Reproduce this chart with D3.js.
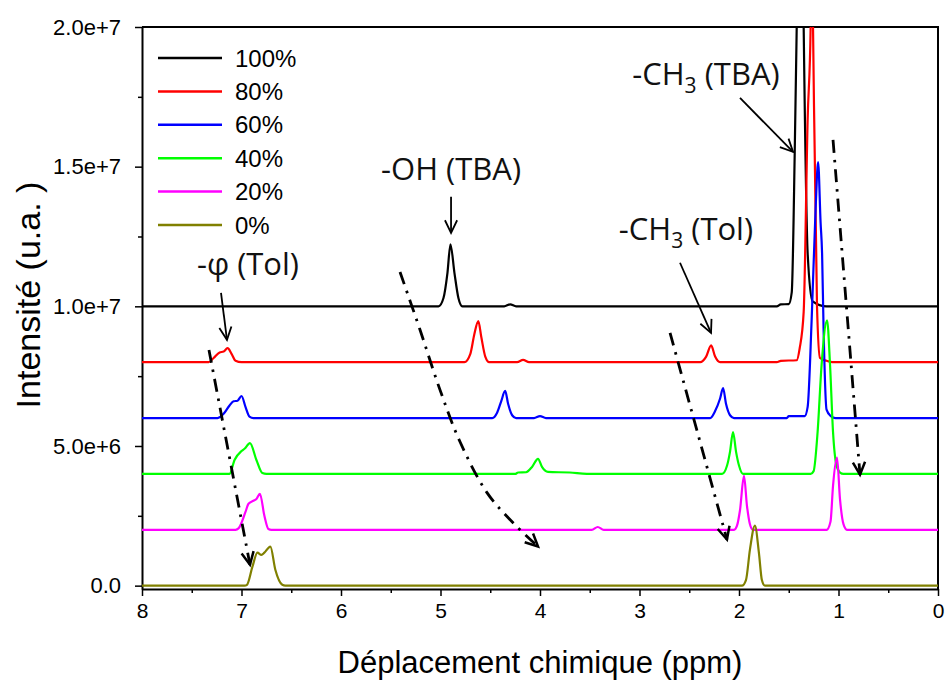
<!DOCTYPE html>
<html>
<head>
<meta charset="utf-8">
<script src="https://cdn.jsdelivr.net/npm/d3@7"></script>
<style>
  html, body { margin: 0; padding: 0; background: #fff; }
  svg { display: block; }
</style>
</head>
<body>
<svg id="chart" width="947" height="680"></svg>
<script>
// ---------- DATA (ppm, intensity above the trace baseline in units of 1e6) ----------
const seriesNames = ["100%", "80%", "60%", "40%", "20%", "0%"];
const seriesColors = ["#000000", "#ff0000", "#0000ff", "#00ff00", "#ff00ff", "#808000"];
const seriesOffsets = [10, 8, 6, 4, 2, 0]; // vertical stacking offset, 1e6 units
const UNIT = 1e6;

const spec100 = [[8,0],[5.02,0],[4.97,0.3],[4.93,1.2],[4.90,2.22],[4.86,1.2],[4.82,0.3],[4.78,0],
  [4.36,0],[4.30,0.07],[4.24,0],[1.62,0],[1.58,0.07],[1.50,0.08],[1.47,0.5],[1.44,5.5],[1.42,10],
  [1.38,20],[1.35,10],[1.31,1.9],[1.26,0.18],[1.12,0],[0,0]];
const spec80 = [[8,0],[7.33,0],[7.28,0.15],[7.22,0.35],[7.18,0.38],[7.14,0.5],[7.10,0.3],[7.06,0.05],[7.0,0],
  [4.76,0],[4.70,0.3],[4.66,1.0],[4.62,1.47],[4.59,0.9],[4.55,0.2],[4.51,0],[4.23,0],[4.17,0.08],[4.11,0],
  [2.39,0],[2.33,0.2],[2.28,0.6],[2.24,0.2],[2.19,0],[1.62,0],[1.58,0.05],[1.42,0.07],[1.39,0.5],
  [1.35,1.8],[1.31,8.7],[1.28,12],[1.27,16],[1.256,12],[1.216,2.0],[1.186,0.15],[1.12,0.05],[1.06,0],[0,0]];
const spec60 = [[8,0],[7.24,0],[7.18,0.15],[7.12,0.45],[7.08,0.6],[7.04,0.62],[7.0,0.79],[6.96,0.4],[6.92,0.05],[6.88,0],
  [4.48,0],[4.43,0.2],[4.39,0.6],[4.35,0.97],[4.32,0.5],[4.28,0.1],[4.24,0],[4.06,0],[4.0,0.07],[3.94,0],
  [2.29,0],[2.24,0.25],[2.19,0.7],[2.16,1.07],[2.13,0.5],[2.09,0.1],[2.05,0],[1.52,0],[1.50,0.07],[1.34,0.07],
  [1.31,0.4],[1.27,3.5],[1.23,7.5],[1.205,9.16],[1.18,7],[1.165,5.9],[1.15,3.2],[1.12,0.3],[1.08,0.08],[1.03,0],[0,0]];
const spec40 = [[8,0],[7.12,0],[7.07,0.5],[7.0,0.82],[6.97,0.9],[6.915,1.1],[6.85,0.5],[6.79,0.03],[6.75,0],
  [4.25,0],[4.22,0.05],[4.14,0.06],[4.08,0.25],[4.02,0.54],[3.98,0.25],[3.92,0.07],[3.70,0.05],[3.53,0],
  [2.17,0],[2.12,0.3],[2.09,0.8],[2.06,1.5],[2.03,0.8],[2.0,0.3],[1.96,0],[1.28,0],[1.25,0.1],[1.21,1.5],
  [1.17,3.9],[1.115,5.5],[1.085,3.9],[1.055,1.5],[1.02,0.3],[0.985,0.05],[0.95,0],[0,0]];
const spec20 = [[8,0],[7.06,0],[7.03,0.05],[6.96,0.64],[6.93,0.93],[6.88,1.04],[6.85,1.1],[6.815,1.29],[6.77,0.5],[6.73,0.03],[6.70,0],
  [3.48,0],[3.42,0.1],[3.36,0],[2.05,0],[2.02,0.15],[1.99,0.7],[1.95,1.93],[1.92,0.86],[1.89,0.2],[1.86,0],
  [1.12,0],[1.08,0.3],[1.055,1.57],[1.015,2.58],[0.985,1.1],[0.95,0.2],[0.915,0],[0,0]];
const spec0 = [[8,0],[6.97,0],[6.945,0.03],[6.89,0.68],[6.84,1.18],[6.80,1.1],[6.77,1.18],[6.71,1.4],[6.66,0.57],[6.59,0.03],[6.56,0],
  [1.97,0],[1.93,0.2],[1.89,1.29],[1.84,2.15],[1.80,1.18],[1.77,0.2],[1.74,0],[0,0]];
const spectra = [spec100, spec80, spec60, spec40, spec20, spec0];

const xTicks = [8, 7, 6, 5, 4, 3, 2, 1, 0];
const yTicks = [0, 5e6, 1e7, 1.5e7, 2e7];
const xTitle = "Déplacement chimique (ppm)";
const yTitle = "Intensité (u.a. )";

// annotations in data coordinates (ppm, 1e6 units)
const labelTexts = [["-φ (Tol)", null], ["-OH (TBA)", null], ["-CH", "3", " (TBA)"], ["-CH", "3", " (Tol)"]];
const labelPos = [[6.935, 11.13], [4.894, 14.53], [2.332, 17.92], [2.533, 12.38]];
const solidArrows = [
  [[7.206, 10.48], [7.146, 8.80]],
  [[4.894, 13.92], [4.894, 12.63]],
  [[1.99, 17.46], [1.457, 15.53]],
  [[2.593, 11.56], [2.281, 9.05]]
];
const dashArrows = [
  [[7.327, 8.44], [6.915, 0.75]],
  [[5.407, 11.23], [5.206, 9.16], [5.005, 7.01], [4.804, 5.15], [4.533, 3.33], [4.271, 2.25], [4.020, 1.40]],
  [[2.693, 9.05], [2.121, 1.65]],
  [[1.055, 15.96], [0.784, 3.97]]
];

// ---------- LAYOUT ----------
const W = 947, H = 680;
const margin = {left: 142, right: 9, top: 27, bottom: 91};
const svg = d3.select("#chart");
const x = d3.scaleLinear().domain([8, 0]).range([margin.left, W - margin.right]);
const y = d3.scaleLinear().domain([-0.12e6, 2e7]).range([H - margin.bottom, margin.top]);
const sansFont = "'Liberation Sans', Arial, sans-serif";
const annFont = "'Open Sans', 'Noto Sans', sans-serif";

svg.append("defs").append("clipPath").attr("id", "clip")
  .append("rect").attr("x", margin.left).attr("y", margin.top)
  .attr("width", W - margin.left - margin.right).attr("height", H - margin.top - margin.bottom);

// axes
const fmtY = d => d === 0 ? "0.0" : d3.format(".1e")(d);
const xMinor = d3.range(0, 8.01, 0.5).filter(v => !xTicks.includes(v));
const yMinor = d3.range(0, 2e7 + 1, 2.5e6).filter(v => !yTicks.includes(v));
const yBottom = H - margin.bottom;

const gx = svg.append("g").attr("transform", `translate(0,${yBottom})`)
  .call(d3.axisBottom(x).tickValues(xTicks).tickFormat(d3.format("d")).tickSize(7).tickPadding(7).tickSizeOuter(0));
svg.append("g").attr("transform", `translate(0,${yBottom})`)
  .call(d3.axisBottom(x).tickValues(xMinor).tickFormat("").tickSize(4).tickSizeOuter(0))
  .call(g => g.select(".domain").remove());
const gy = svg.append("g").attr("transform", `translate(${margin.left},0)`)
  .call(d3.axisLeft(y).tickValues(yTicks).tickFormat(fmtY).tickSize(7).tickPadding(14).tickSizeOuter(0));
svg.append("g").attr("transform", `translate(${margin.left},0)`)
  .call(d3.axisLeft(y).tickValues(yMinor).tickFormat("").tickSize(4).tickSizeOuter(0))
  .call(g => g.select(".domain").remove());

svg.selectAll(".tick line").attr("stroke", "#000").attr("stroke-width", 1.5);
svg.selectAll(".domain").attr("stroke", "#000").attr("stroke-width", 2);
gx.selectAll("text").attr("font-family", sansFont).attr("font-size", 21).attr("fill", "#000");
gy.selectAll("text").attr("font-family", sansFont).attr("font-size", 22).attr("fill", "#000");

// frame (top & right)
svg.append("path")
  .attr("d", `M${x(8)},${margin.top}H${x(0)}V${yBottom}`)
  .attr("fill", "none").attr("stroke", "#000").attr("stroke-width", 2);

// spectra
const line = d3.line().curve(d3.curveMonotoneX);
const gLines = svg.append("g").attr("clip-path", "url(#clip)");
spectra.forEach((s, i) => {
  gLines.append("path")
    .attr("d", line(s.map(d => [x(d[0]), y((d[1] + seriesOffsets[i]) * UNIT)])))
    .attr("fill", "none").attr("stroke", seriesColors[i]).attr("stroke-width", 2.2)
    .attr("stroke-linejoin", "round");
});

// titles
svg.append("text").attr("x", (x(8) + x(0)) / 2).attr("y", 673)
  .attr("text-anchor", "middle").attr("font-family", sansFont).attr("font-size", 31)
  .text(xTitle);
svg.append("text").attr("transform", `translate(40,${295}) rotate(-90)`)
  .attr("text-anchor", "middle").attr("font-family", sansFont).attr("font-size", 34)
  .text(yTitle);

// legend
const lg = svg.append("g");
seriesNames.forEach((n, i) => {
  const yy = 58 + i * 33.4;
  lg.append("line").attr("x1", 158).attr("x2", 222).attr("y1", yy).attr("y2", yy)
    .attr("stroke", seriesColors[i]).attr("stroke-width", 2.5);
  lg.append("text").attr("x", 235).attr("y", yy).attr("dy", "0.36em")
    .attr("font-family", sansFont).attr("font-size", 24).text(n);
});

// annotations
const ann = svg.append("g");
labelTexts.forEach((t, i) => {
  const tx = ann.append("text").attr("x", x(labelPos[i][0])).attr("y", y(labelPos[i][1] * UNIT))
    .attr("text-anchor", "middle").attr("font-family", annFont).attr("font-size", 31).attr("fill", "#111");
  if (t.length === 2) { tx.text(t[0]); }
  else {
    tx.append("tspan").text(t[0]);
    tx.append("tspan").attr("font-size", 21).attr("dy", 8).text(t[1]);
    tx.append("tspan").attr("dy", -8).text(t[2]);
  }
});

function arrowHead(g, p0, p1, dash) {
  const ang = Math.atan2(p1[1] - p0[1], p1[0] - p0[0]);
  const L = 14, a = 0.45;
  const l1 = [p1[0] - L * Math.cos(ang - a), p1[1] - L * Math.sin(ang - a)];
  const l2 = [p1[0] - L * Math.cos(ang + a), p1[1] - L * Math.sin(ang + a)];
  g.append("path").attr("d", `M${l1}L${p1}L${l2}`).attr("fill", "none")
    .attr("stroke", "#000").attr("stroke-width", dash ? 2.5 : 1.8);
}
const px = p => [x(p[0]), y(p[1] * UNIT)];
solidArrows.forEach(a => {
  const p0 = px(a[0]), p1 = px(a[1]);
  ann.append("path").attr("d", `M${p0}L${p1}`).attr("stroke", "#000").attr("stroke-width", 1.8).attr("fill", "none");
  arrowHead(ann, p0, p1, false);
});
const dline = d3.line().curve(d3.curveCatmullRom);
dashArrows.forEach(a => {
  const pts = a.map(px);
  ann.append("path").attr("d", dline(pts)).attr("stroke", "#000").attr("stroke-width", 2.8)
    .attr("fill", "none").attr("stroke-dasharray", "13,7,2.5,7");
  arrowHead(ann, pts[pts.length - 2], pts[pts.length - 1], true);
});
</script>
</body>
</html>
